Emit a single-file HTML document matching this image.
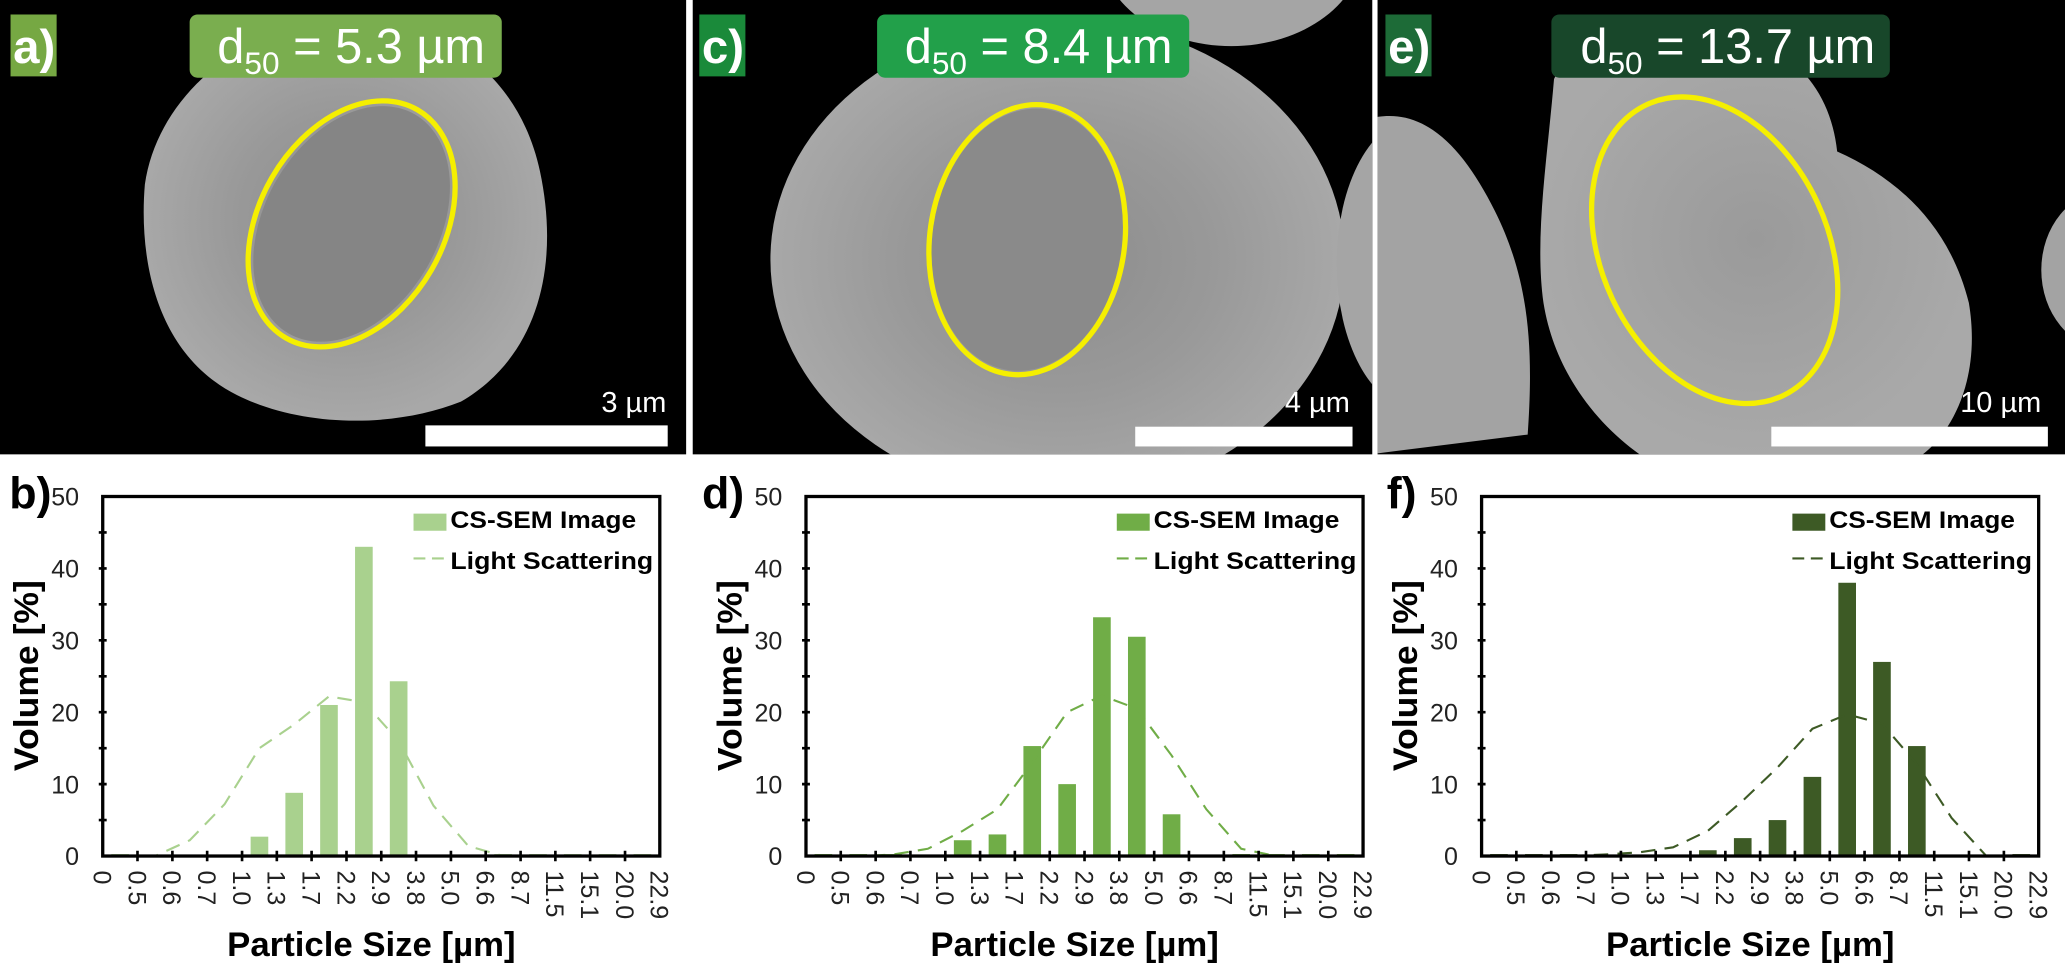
<!DOCTYPE html>
<html><head><meta charset="utf-8"><style>
html,body{margin:0;padding:0;background:#fff;}
svg{display:block;}
text{font-family:"Liberation Sans",Arial,sans-serif;}
</style></head><body>
<svg width="2065" height="966" viewBox="0 0 1568 733.5" preserveAspectRatio="none" xmlns="http://www.w3.org/2000/svg">
<defs>
<clipPath id="ca"><rect x="0" y="0" width="521" height="345"/></clipPath>
<clipPath id="cc"><rect x="526" y="0" width="516" height="345"/></clipPath>
<clipPath id="ce"><rect x="1046" y="0" width="522" height="345"/></clipPath>
<radialGradient id="gp" cx="50%" cy="50%" r="50%"><stop offset="0" stop-color="#8c8c8c"/><stop offset="0.55" stop-color="#999"/><stop offset="1" stop-color="#a8a8a8"/></radialGradient>
<radialGradient id="ge" cx="50%" cy="50%" r="50%"><stop offset="0" stop-color="#9a9a9a"/><stop offset="1" stop-color="#a9a9a9"/></radialGradient>
</defs>
<rect width="1568" height="733.5" fill="#fff"/>
<!-- panel a -->
<rect x="0" y="0" width="521" height="345" fill="#000"/>
<g clip-path="url(#ca)">
<path d="M265,15 C340,15 395,60 410,130 C425,200 410,270 350,305 C300,325 230,325 180,300 C120,270 105,200 110,140 C120,70 190,15 265,15 Z" fill="url(#gp)"/>
<ellipse cx="267" cy="170" rx="66" ry="96" transform="rotate(30 267 170)" fill="#858585"/>
<ellipse cx="267" cy="170" rx="70" ry="100" transform="rotate(30 267 170)" fill="none" stroke="#f5ef00" stroke-width="4"/>
</g>
<rect x="8" y="11" width="35" height="47" fill="#76a843"/>
<text x="10" y="48" font-size="36" font-weight="bold" fill="#fff">a)</text>
<rect x="144" y="11" width="237" height="48" rx="6" fill="#7aae4f"/>
<text x="165" y="48" font-size="37" fill="#fff">d<tspan font-size="24" dy="8">50</tspan><tspan dy="-8"> = 5.3 µm</tspan></text>
<rect x="323" y="323" width="184" height="16" fill="#fff"/>
<text x="506" y="313" font-size="22" fill="#fff" text-anchor="end">3 µm</text>
<!-- panel c -->
<rect x="526" y="0" width="516" height="345" fill="#000"/>
<g clip-path="url(#cc)">
<ellipse cx="935" cy="-40" rx="100" ry="75" fill="#a5a5a5"/>
<ellipse cx="803" cy="197" rx="218" ry="182" fill="url(#gp)"/>
<ellipse cx="1075" cy="200" rx="60" ry="110" fill="#a5a5a5"/>
<ellipse cx="780" cy="182" rx="72" ry="100" transform="rotate(8 780 182)" fill="#8a8a8a"/>
<ellipse cx="780" cy="182" rx="74" ry="103" transform="rotate(8 780 182)" fill="none" stroke="#f5ef00" stroke-width="4"/>
<rect x="862" y="324" width="165" height="15" fill="#fff"/>
<text x="1025" y="313" font-size="22" fill="#fff" text-anchor="end">4 µm</text>
</g>
<rect x="531" y="11" width="35" height="47" fill="#1a8a3a"/>
<text x="533" y="48" font-size="36" font-weight="bold" fill="#fff">c)</text>
<rect x="666" y="11" width="237" height="48" rx="6" fill="#22a04a"/>
<text x="687" y="48" font-size="37" fill="#fff">d<tspan font-size="24" dy="8">50</tspan><tspan dy="-8"> = 8.4 µm</tspan></text>
<!-- panel e -->
<rect x="1046" y="0" width="522" height="345" fill="#000"/>
<g clip-path="url(#ce)">
<path d="M1040,90 C1080,80 1110,110 1135,160 C1160,210 1165,260 1160,330 L1040,345 Z" fill="#a3a3a3"/>
<path d="M1180,60 C1200,20 1270,10 1320,25 C1365,40 1390,70 1395,115 C1440,135 1480,170 1495,230 C1505,290 1480,330 1460,345 L1245,345 C1210,320 1180,280 1172,230 C1165,180 1175,120 1180,60 Z" fill="url(#ge)"/>
<ellipse cx="1600" cy="205" rx="50" ry="60" fill="#a3a3a3"/>
<ellipse cx="1302" cy="190" rx="86" ry="122" transform="rotate(-25 1302 190)" fill="none" stroke="#f5ef00" stroke-width="4"/>
<rect x="1345" y="324" width="210" height="15" fill="#fff"/>
<text x="1550" y="313" font-size="22" fill="#fff" text-anchor="end">10 µm</text>
</g>
<rect x="1052" y="11" width="35" height="47" fill="#1d6b37"/>
<text x="1054" y="48" font-size="36" font-weight="bold" fill="#fff">e)</text>
<rect x="1178" y="11" width="257" height="48" rx="6" fill="#18472a"/>
<text x="1200" y="48" font-size="37" fill="#fff">d<tspan font-size="24" dy="8">50</tspan><tspan dy="-8"> = 13.7 µm</tspan></text>

<!-- chart b -->
<g transform="translate(78,0)">
<text x="-71" y="386" font-size="34" font-weight="bold">b)</text>
<g fill="#a9d18e">
<rect x="6.5" y="648.5" width="13.4" height="1.5"/>
<rect x="297.3" y="648.5" width="13.4" height="1.5"/><rect x="323.8" y="648.5" width="13.4" height="1.5"/><rect x="350.2" y="648.5" width="13.4" height="1.5"/><rect x="376.6" y="648.5" width="13.4" height="1.5"/><rect x="403.1" y="648.5" width="13.4" height="1.5"/>
<rect x="112.3" y="635.3" width="13.4" height="14.7"/>
<rect x="138.7" y="602.0" width="13.4" height="48.0"/>
<rect x="165.1" y="535.3" width="13.4" height="114.7"/>
<rect x="191.6" y="415.2" width="13.4" height="234.8"/>
<rect x="218.0" y="517.3" width="13.4" height="132.7"/>
</g>
<polyline fill="none" stroke="#a9d18e" stroke-width="1.6" stroke-dasharray="11,7" points="13.2,650 39.7,650 66.1,638.0 92.5,610.7 119.0,568.1 145.4,550.1 171.8,528.8 198.3,533.2 224.7,562.6 251.2,611.8 277.6,642.4 304.0,650 330.5,650 356.9,650 383.3,650 409.8,650"/>
<rect x="236" y="390" width="25" height="13" fill="#a9d18e"/>
<line x1="236" y1="424" x2="261" y2="424" stroke="#a9d18e" stroke-width="1.6" stroke-dasharray="9,5"/>
<text x="264" y="401" font-size="18" font-weight="bold" textLength="141" lengthAdjust="spacingAndGlyphs">CS-SEM Image</text>
<text x="264" y="432" font-size="18" font-weight="bold" textLength="154" lengthAdjust="spacingAndGlyphs">Light Scattering</text>
<rect x="0" y="377" width="423" height="273" fill="none" stroke="#000" stroke-width="2.5"/>
<path stroke="#000" stroke-width="2" d="M-3,622.7h6M-3,595.4h6M-3,568.1h6M-3,540.8h6M-3,513.5h6M-3,486.2h6M-3,458.9h6M-3,431.6h6M-3,404.3h6M26.4,646v8M52.9,646v8M79.3,646v8M105.8,646v8M132.2,646v8M158.6,646v8M185.1,646v8M211.5,646v8M237.9,646v8M264.4,646v8M290.8,646v8M317.3,646v8M343.7,646v8M370.1,646v8M396.6,646v8"/>
<g font-size="19" text-anchor="end" fill="#222"><text x="-18" y="657">0</text><text x="-18" y="602.4">10</text><text x="-18" y="547.8">20</text><text x="-18" y="493.2">30</text><text x="-18" y="438.6">40</text><text x="-18" y="384">50</text></g>
<g font-size="19" fill="#222">
<text transform="translate(-7,661) rotate(90)">0</text><text transform="translate(19.4,661) rotate(90)">0.5</text><text transform="translate(45.9,661) rotate(90)">0.6</text><text transform="translate(72.3,661) rotate(90)">0.7</text><text transform="translate(98.8,661) rotate(90)">1.0</text><text transform="translate(125.2,661) rotate(90)">1.3</text><text transform="translate(151.6,661) rotate(90)">1.7</text><text transform="translate(178.1,661) rotate(90)">2.2</text><text transform="translate(204.5,661) rotate(90)">2.9</text><text transform="translate(230.9,661) rotate(90)">3.8</text><text transform="translate(257.4,661) rotate(90)">5.0</text><text transform="translate(283.8,661) rotate(90)">6.6</text><text transform="translate(310.3,661) rotate(90)">8.7</text><text transform="translate(336.7,661) rotate(90)">11.5</text><text transform="translate(363.1,661) rotate(90)">15.1</text><text transform="translate(389.6,661) rotate(90)">20.0</text><text transform="translate(416,661) rotate(90)">22.9</text>
</g>
<text x="204" y="726" font-size="26" font-weight="bold" text-anchor="middle" textLength="219" lengthAdjust="spacingAndGlyphs">Particle Size [µm]</text>
<text transform="translate(-49,513) rotate(-90)" font-size="26" font-weight="bold" text-anchor="middle" textLength="145" lengthAdjust="spacingAndGlyphs">Volume [%]</text>
</g>

<!-- chart d -->
<g transform="translate(612,0)">
<text x="-79" y="386" font-size="34" font-weight="bold">d)</text>
<g fill="#70ad47">
<rect x="6.5" y="648.5" width="13.4" height="1.5"/><rect x="33" y="648.5" width="13.4" height="1.5"/><rect x="59.4" y="648.5" width="13.4" height="1.5"/>
<rect x="323.8" y="648.5" width="13.4" height="1.5"/><rect x="350.2" y="648.5" width="13.4" height="1.5"/><rect x="376.6" y="648.5" width="13.4" height="1.5"/><rect x="403.1" y="648.5" width="13.4" height="1.5"/>
<rect x="112.3" y="638.0" width="13.4" height="12"/>
<rect x="138.7" y="633.6" width="13.4" height="16.4"/>
<rect x="165.1" y="566.5" width="13.4" height="83.5"/>
<rect x="191.6" y="595.4" width="13.4" height="54.6"/>
<rect x="218.0" y="468.7" width="13.4" height="181.3"/>
<rect x="244.5" y="483.5" width="13.4" height="166.5"/>
<rect x="270.9" y="618.3" width="13.4" height="31.7"/>
</g>
<polyline fill="none" stroke="#70ad47" stroke-width="1.6" stroke-dasharray="11,7" points="13.2,650 39.7,650 66.1,648.9 92.5,644.5 119.0,630.9 145.4,614.5 171.8,579.0 198.3,540.8 224.7,528.2 251.2,538.1 277.6,573.6 304.0,614.5 330.5,644.5 356.9,650 383.3,650 409.8,650"/>
<rect x="236" y="390" width="25" height="13" fill="#70ad47"/>
<line x1="236" y1="424" x2="261" y2="424" stroke="#70ad47" stroke-width="1.6" stroke-dasharray="9,5"/>
<text x="264" y="401" font-size="18" font-weight="bold" textLength="141" lengthAdjust="spacingAndGlyphs">CS-SEM Image</text>
<text x="264" y="432" font-size="18" font-weight="bold" textLength="154" lengthAdjust="spacingAndGlyphs">Light Scattering</text>
<rect x="0" y="377" width="423" height="273" fill="none" stroke="#000" stroke-width="2.5"/>
<path stroke="#000" stroke-width="2" d="M-3,622.7h6M-3,595.4h6M-3,568.1h6M-3,540.8h6M-3,513.5h6M-3,486.2h6M-3,458.9h6M-3,431.6h6M-3,404.3h6M26.4,646v8M52.9,646v8M79.3,646v8M105.8,646v8M132.2,646v8M158.6,646v8M185.1,646v8M211.5,646v8M237.9,646v8M264.4,646v8M290.8,646v8M317.3,646v8M343.7,646v8M370.1,646v8M396.6,646v8"/>
<g font-size="19" text-anchor="end" fill="#222"><text x="-18" y="657">0</text><text x="-18" y="602.4">10</text><text x="-18" y="547.8">20</text><text x="-18" y="493.2">30</text><text x="-18" y="438.6">40</text><text x="-18" y="384">50</text></g>
<g font-size="19" fill="#222">
<text transform="translate(-7,661) rotate(90)">0</text><text transform="translate(19.4,661) rotate(90)">0.5</text><text transform="translate(45.9,661) rotate(90)">0.6</text><text transform="translate(72.3,661) rotate(90)">0.7</text><text transform="translate(98.8,661) rotate(90)">1.0</text><text transform="translate(125.2,661) rotate(90)">1.3</text><text transform="translate(151.6,661) rotate(90)">1.7</text><text transform="translate(178.1,661) rotate(90)">2.2</text><text transform="translate(204.5,661) rotate(90)">2.9</text><text transform="translate(230.9,661) rotate(90)">3.8</text><text transform="translate(257.4,661) rotate(90)">5.0</text><text transform="translate(283.8,661) rotate(90)">6.6</text><text transform="translate(310.3,661) rotate(90)">8.7</text><text transform="translate(336.7,661) rotate(90)">11.5</text><text transform="translate(363.1,661) rotate(90)">15.1</text><text transform="translate(389.6,661) rotate(90)">20.0</text><text transform="translate(416,661) rotate(90)">22.9</text>
</g>
<text x="204" y="726" font-size="26" font-weight="bold" text-anchor="middle" textLength="219" lengthAdjust="spacingAndGlyphs">Particle Size [µm]</text>
<text transform="translate(-49,513) rotate(-90)" font-size="26" font-weight="bold" text-anchor="middle" textLength="145" lengthAdjust="spacingAndGlyphs">Volume [%]</text>
</g>

<!-- chart f -->
<g transform="translate(1125,0)">
<text x="-72" y="386" font-size="34" font-weight="bold">f)</text>
<g fill="#3d5a25">
<rect x="6.5" y="648.5" width="13.4" height="1.5"/><rect x="33" y="648.5" width="13.4" height="1.5"/><rect x="59.4" y="648.5" width="13.4" height="1.5"/>
<rect x="403.1" y="648.5" width="13.4" height="1.5"/>
<rect x="165.1" y="645.6" width="13.4" height="4.4"/>
<rect x="191.6" y="636.4" width="13.4" height="13.6"/>
<rect x="218.0" y="622.7" width="13.4" height="27.3"/>
<rect x="244.5" y="589.9" width="13.4" height="60.1"/>
<rect x="270.9" y="442.5" width="13.4" height="207.5"/>
<rect x="297.3" y="502.6" width="13.4" height="147.4"/>
<rect x="323.8" y="566.5" width="13.4" height="83.5"/>
</g>
<polyline fill="none" stroke="#3d5a25" stroke-width="1.6" stroke-dasharray="11,7" points="13.2,650 39.7,650 66.1,650 92.5,648.9 119.0,647.3 145.4,643.4 171.8,630.9 198.3,608.0 224.7,582.8 251.2,553.4 277.6,542.4 304.0,549.5 330.5,580.1 356.9,621.1 383.3,650 409.8,650"/>
<rect x="236" y="390" width="25" height="13" fill="#3d5a25"/>
<line x1="236" y1="424" x2="261" y2="424" stroke="#3d5a25" stroke-width="1.6" stroke-dasharray="9,5"/>
<text x="264" y="401" font-size="18" font-weight="bold" textLength="141" lengthAdjust="spacingAndGlyphs">CS-SEM Image</text>
<text x="264" y="432" font-size="18" font-weight="bold" textLength="154" lengthAdjust="spacingAndGlyphs">Light Scattering</text>
<rect x="0" y="377" width="423" height="273" fill="none" stroke="#000" stroke-width="2.5"/>
<path stroke="#000" stroke-width="2" d="M-3,622.7h6M-3,595.4h6M-3,568.1h6M-3,540.8h6M-3,513.5h6M-3,486.2h6M-3,458.9h6M-3,431.6h6M-3,404.3h6M26.4,646v8M52.9,646v8M79.3,646v8M105.8,646v8M132.2,646v8M158.6,646v8M185.1,646v8M211.5,646v8M237.9,646v8M264.4,646v8M290.8,646v8M317.3,646v8M343.7,646v8M370.1,646v8M396.6,646v8"/>
<g font-size="19" text-anchor="end" fill="#222"><text x="-18" y="657">0</text><text x="-18" y="602.4">10</text><text x="-18" y="547.8">20</text><text x="-18" y="493.2">30</text><text x="-18" y="438.6">40</text><text x="-18" y="384">50</text></g>
<g font-size="19" fill="#222">
<text transform="translate(-7,661) rotate(90)">0</text><text transform="translate(19.4,661) rotate(90)">0.5</text><text transform="translate(45.9,661) rotate(90)">0.6</text><text transform="translate(72.3,661) rotate(90)">0.7</text><text transform="translate(98.8,661) rotate(90)">1.0</text><text transform="translate(125.2,661) rotate(90)">1.3</text><text transform="translate(151.6,661) rotate(90)">1.7</text><text transform="translate(178.1,661) rotate(90)">2.2</text><text transform="translate(204.5,661) rotate(90)">2.9</text><text transform="translate(230.9,661) rotate(90)">3.8</text><text transform="translate(257.4,661) rotate(90)">5.0</text><text transform="translate(283.8,661) rotate(90)">6.6</text><text transform="translate(310.3,661) rotate(90)">8.7</text><text transform="translate(336.7,661) rotate(90)">11.5</text><text transform="translate(363.1,661) rotate(90)">15.1</text><text transform="translate(389.6,661) rotate(90)">20.0</text><text transform="translate(416,661) rotate(90)">22.9</text>
</g>
<text x="204" y="726" font-size="26" font-weight="bold" text-anchor="middle" textLength="219" lengthAdjust="spacingAndGlyphs">Particle Size [µm]</text>
<text transform="translate(-49,513) rotate(-90)" font-size="26" font-weight="bold" text-anchor="middle" textLength="145" lengthAdjust="spacingAndGlyphs">Volume [%]</text>
</g>
</svg>
</body></html>
